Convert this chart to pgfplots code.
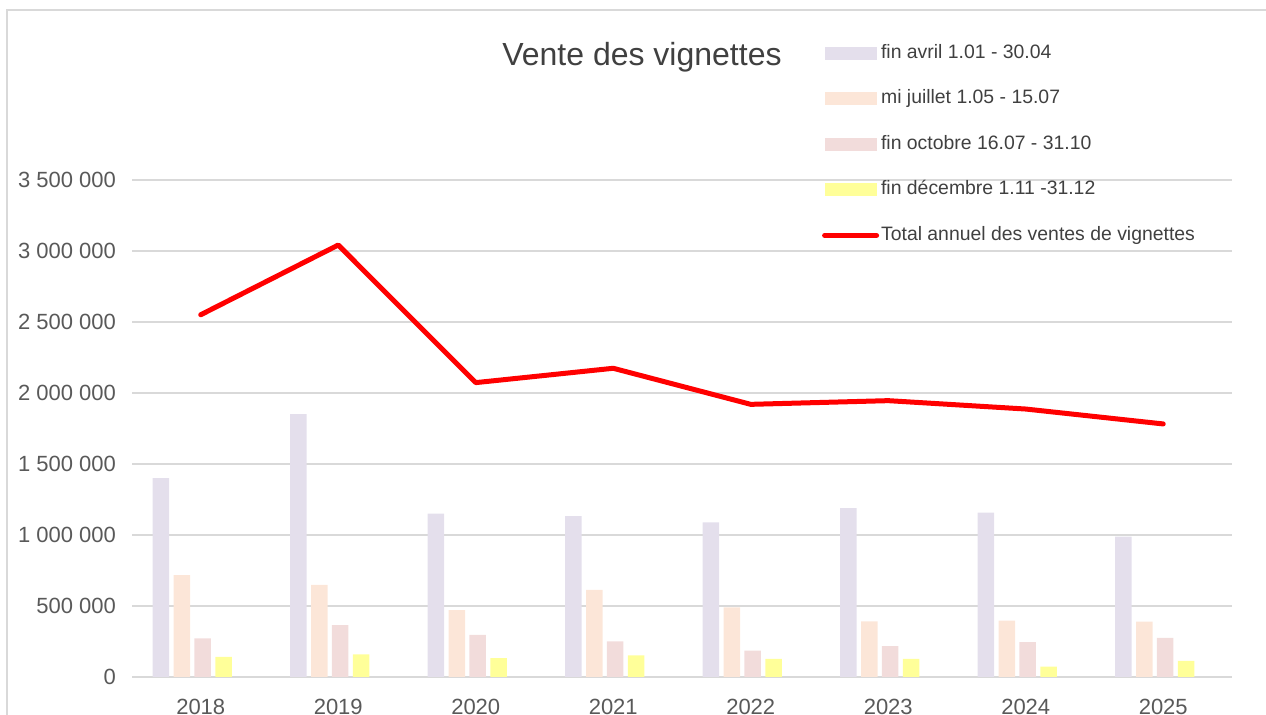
\documentclass[border=0pt]{standalone}
\usepackage{fontspec}
\setmainfont{Liberation Sans}
\usepackage{pgfplots}
\usepackage{pgfplotstable}
\pgfplotsset{compat=1.18}

\definecolor{avril}{HTML}{E4DFEC}
\definecolor{juillet}{HTML}{FCE6D8}
\definecolor{octobre}{HTML}{F2DCDB}
\definecolor{decembre}{HTML}{FFFF99}
\definecolor{gridgray}{HTML}{D9D9D9}
\definecolor{txt}{HTML}{404040}
\definecolor{ticktxt}{HTML}{595959}

\pgfplotsset{
    vignbar/.style={legend image code/.code={\fill[##1] (0pt,-3.25pt) rectangle (26pt,3.25pt);}},
    vignline/.style={legend image code/.code={\draw[##1] (0pt,0pt) -- (26pt,0pt);}},
}

% annee: 0 = 2018 ... 7 = 2025
\pgfplotstableread{
idx avril   juillet octobre decembre total
0   1400000 718000  272000  141000   2551000
1   1852000 648000  366000  160000   3042000
2   1150000 470000  296000  132000   2073000
3   1132000 613000  251000  153000   2174000
4   1089000 491000  185000  127000   1920000
5   1190000 392000  218000  127000   1946000
6   1157000 397000  246000  73000    1887000
7   988000  390000  275000  113000   1782000
}\ventes

\begin{document}
\begin{tikzpicture}
\begin{axis}[
    at={(66pt,19pt)}, anchor=south west,
    scale only axis,
    width=550pt, height=248.5pt,
    xmin=-0.5, xmax=7.5,
    ymin=0, ymax=3500000,
    scaled y ticks=false,
    xtick={0,...,7},
    xticklabels={2018,2019,2020,2021,2022,2023,2024,2025},
    ytick={0,500000,1000000,1500000,2000000,2500000,3000000,3500000},
    yticklabels={0,500 000,1 000 000,1 500 000,2 000 000,2 500 000,3 000 000,3 500 000},
    major tick length=0pt,
    axis line style={draw=none},
    ymajorgrids,
    major grid style={gridgray, line width=0.8pt},
    tick label style={font=\fontsize{11}{13}\selectfont, text=ticktxt},
    yticklabel style={xshift=-4.5pt},
    xticklabel style={yshift=-7.3pt},
    title={Vente des vignettes},
    title style={at={(0.4636,1.207)}, anchor=base, font=\fontsize{16}{19}\selectfont, text=txt},
    legend cell align=left,
    legend style={at={(0.627,1.2777)}, anchor=north west, draw=none, fill=none,
        inner sep=0pt, row sep=11.75pt,
        nodes={inner sep=1pt, text height=7pt, text depth=2pt, anchor=west,
               font=\fontsize{9.7}{11}\selectfont, text=txt}},
]
\addplot[ybar, bar width=0.12, bar shift=-0.29,  fill=avril,    draw=none, vignbar] table[x=idx, y=avril] {\ventes};
\addplot[ybar, bar width=0.12, bar shift=-0.138, fill=juillet,  draw=none, vignbar] table[x=idx, y=juillet] {\ventes};
\addplot[ybar, bar width=0.12, bar shift=0.014,  fill=octobre,  draw=none, vignbar] table[x=idx, y=octobre] {\ventes};
\addplot[ybar, bar width=0.12, bar shift=0.166,  fill=decembre, draw=none, vignbar] table[x=idx, y=decembre] {\ventes};
\addplot[sharp plot, red, line width=2.5pt, line join=round, line cap=round, no markers, vignline]
    table[x=idx, y=total] {\ventes};
\legend{fin avril 1.01 - 30.04, mi juillet 1.05 - 15.07, fin octobre 16.07 - 31.10, fin décembre 1.11 -31.12, Total annuel des ventes de vignettes}
\end{axis}
\draw[gridgray, line width=1.2pt] (3.5pt,-20pt) |- (660pt,352.5pt);
\pgfresetboundingbox
\useasboundingbox (0,0) rectangle (633pt,357.5pt);
\end{tikzpicture}
\end{document}
